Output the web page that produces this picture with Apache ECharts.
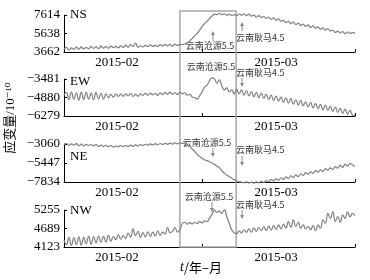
<!DOCTYPE html>
<html><head><meta charset="utf-8">
<script src="https://cdn.jsdelivr.net/npm/echarts@6/dist/echarts.min.js"></script>
<style>html,body{margin:0;padding:0;background:#fff}#c{width:370px;height:280px}</style>
</head><body><div id="c"></div>
<script>
// days since 2015-02-01
const days = [
0,0.5,1,1.5,2,2.5,3,3.5,4,4.5,
5,5.5,6,6.5,7,7.5,8,8.5,9,9.5,
10,10.5,11,11.5,12,12.5,13,13.5,14,14.5,
15,15.5,16,16.5,17,17.5,18,18.5,19,19.5,
20,20.5,21,21.5,22,22.5,23,23.5,24,24.5,
25,25.5,26,26.5,27,27.5,28,28.5,29,29.5,
30,30.5,31,31.5,32,32.5,33,33.5,34,34.5,
35,35.5,36,36.5,37,37.5,38,38.5,39,39.5,
40,40.5,41,41.5,42,42.5,43,43.5,44,44.5,
45,45.5,46,46.5,47,47.5,48,48.5,49,49.5,
50,50.5,51,51.5,52,52.5,53,53.5,54,54.5,
55,55.5,56,56.5,57,57.5,58,58.5,59];

const nsValues = [
3950,4150,3880,4100,3930,4180,3960,4200,4000,4150,
3990,4230,4050,4200,4030,4280,4080,4250,4060,4300,
4120,4260,4100,4320,4150,4400,4180,4450,4250,4620,
4160,4330,4200,4370,4230,4420,4260,4400,4250,4450,
4300,4480,4320,4460,4300,4500,4350,4480,4450,4550,
4650,4850,5100,5400,5650,6000,6400,6700,6950,7250,
7500,7700,7650,7800,7650,7750,7600,7700,7550,7650,
7550,7720,7600,7750,7550,7700,7500,7600,7400,7550,
7350,7450,7250,7400,7150,7300,7050,7200,6950,7050,
6800,6950,6700,6850,6600,6750,6500,6650,6400,6550,
6300,6450,6200,6350,6100,6250,6000,6150,5900,6000,
5750,5900,5700,5850,5600,5800,5650,5750,5620];

const ewValues = [
-4700,-4500,-5050,-4480,-5000,-4520,-5080,-4470,-5030,-4500,
-5000,-4550,-5050,-4500,-4980,-4560,-5000,-4600,-4900,-4650,
-4850,-4600,-4800,-4620,-4780,-4600,-4750,-4560,-4800,-4640,
-4780,-4600,-4720,-4560,-4700,-4540,-4680,-4560,-4720,-4520,
-4660,-4500,-4650,-4480,-4620,-4520,-4650,-4500,-4600,-4520,
-4700,-4650,-4850,-4900,-5000,-4750,-4450,-4100,-3950,-3600,
-3400,-3450,-3800,-3550,-4000,-4300,-4150,-4450,-4300,-4600,
-4250,-4600,-4300,-4700,-4350,-4750,-4450,-4820,-4500,-4900,
-4550,-4950,-4650,-5030,-4700,-5100,-4780,-5150,-4850,-5250,
-4900,-5300,-4950,-5380,-5050,-5450,-5100,-5500,-5200,-5580,
-5250,-5650,-5350,-5720,-5400,-5800,-5450,-5850,-5550,-5930,
-5600,-6000,-5700,-6080,-5750,-6150,-5850,-6200,-6250];

const neValues = [
-3150,-3000,-3250,-3050,-3200,-3020,-3280,-3080,-3300,-3100,
-3250,-3120,-3300,-3150,-3350,-3200,-3380,-3220,-3400,-3250,
-3450,-3300,-3420,-3250,-3400,-3250,-3380,-3200,-3350,-3180,
-3300,-3120,-3250,-3100,-3200,-3050,-3180,-3020,-3150,-3000,
-3120,-2980,-3100,-2950,-3080,-2920,-3050,-2900,-3000,-2950,
-3150,-3350,-3700,-4000,-4350,-4650,-4850,-5050,-5150,-5300,
-5450,-5600,-5850,-6050,-6400,-6700,-6950,-7150,-7350,-7550,
-7700,-7800,-7850,-7950,-7820,-7960,-7850,-7980,-7800,-7950,
-7750,-7900,-7650,-7800,-7500,-7700,-7400,-7600,-7300,-7500,
-7200,-7400,-7050,-7250,-6950,-7150,-6800,-7000,-6650,-6850,
-6550,-6750,-6400,-6600,-6300,-6500,-6150,-6350,-6050,-6250,
-5900,-6100,-5750,-6000,-5600,-5850,-5500,-5700,-5900];

const nwValues = [
4330,4200,4420,4170,4400,4200,4430,4180,4420,4220,
4450,4210,4430,4250,4460,4260,4450,4280,4480,4300,
4440,4350,4500,4360,4470,4380,4550,4420,4680,4470,
4600,4420,4560,4430,4590,4450,4580,4460,4620,4480,
4580,4520,4720,4560,4600,4720,4580,4650,4850,4880,
4820,4870,4830,4880,4840,4900,4860,4920,4900,5000,
5120,5250,5180,5230,5150,5260,5050,4850,4650,4560,
4530,4620,4550,4650,4570,4680,4580,4700,4600,4720,
4620,4750,4630,4760,4640,4780,4660,4800,4680,4820,
4700,4900,4720,4950,4750,4880,4700,4800,4680,4750,
4650,4780,4620,4800,4700,4950,4850,5150,5000,5200,
4900,5050,4880,5100,5000,5200,5050,5150,5080];

const panelNames = ['NS','EW','NE','NW'];
const yTicks = [[3662,5638,7614],[-6279,-4880,-3481],[-7834,-5447,-3060],[4123,4689,5255]];
const monthLabels = ['2015-02','2015-03'];
const monthLabelDays = [10.75, 43];
const tickDays = [28, 59];
const cangyuanDay = 30.2;   // 云南沧源5.5
const gengmaDay = 36.1;     // 云南耿马4.5
const boxDays = [23.5, 34.9];

const seriesValues = [nsValues, ewValues, neValues, nwValues];
const gridTops = [15, 79, 144, 210];
const gridHeights = [37, 37, 38, 37];
const serif = 'Liberation Serif, DejaVu Serif, serif';
const cjk = 'Noto Sans CJK SC, sans-serif';

const chart = echarts.init(document.getElementById('c'), null, {renderer: 'canvas'});
const grids = [], xAxes = [], yAxes = [], series = [];
for (let i = 0; i < 4; i++) {
  grids.push({left: 64, right: 15, top: gridTops[i], height: gridHeights[i]});
  xAxes.push({
    type: 'value', gridIndex: i, min: 0, max: 59,
    axisLine: {lineStyle: {color: '#000', width: 1}},
    axisTick: {show: true, inside: true, length: 3, customValues: tickDays, lineStyle: {color: '#000'}},
    axisLabel: {customValues: monthLabelDays, margin: 4, color: '#000', fontFamily: serif, fontSize: 13,
      formatter: v => v < 28 ? monthLabels[0] : monthLabels[1]},
    splitLine: {show: false}
  });
  const t = yTicks[i];
  yAxes.push({
    type: 'value', gridIndex: i, min: t[0], max: t[2],
    axisLine: {show: true, lineStyle: {color: '#000', width: 1}},
    axisTick: {show: true, inside: true, length: 3, customValues: t, lineStyle: {color: '#000'}},
    axisLabel: {customValues: t, margin: 4, color: '#000', fontFamily: serif, fontSize: 13,
      formatter: v => (v < 0 ? '\u2212' + Math.abs(v) : String(v))},
    splitLine: {show: false}
  });
  series.push({
    type: 'line', xAxisIndex: i, yAxisIndex: i, showSymbol: false, smooth: 0.5, clip: false,
    lineStyle: {color: '#7f7f7f', width: 1.2},
    data: days.map((d, k) => [d, seriesValues[i][k]])
  });
}
chart.setOption({animation: false, grid: grids, xAxis: xAxes, yAxis: yAxes, series: series});

const px = d => chart.convertToPixel({xAxisIndex: 0}, d);
const xc = px(cangyuanDay), xg = px(gengmaDay);
const bx0 = px(boxDays[0]), bx1 = px(boxDays[1]);
const g = [];
g.push({type: 'rect', shape: {x: bx0, y: 11, width: bx1 - bx0, height: 247 - 11},
  style: {fill: null, stroke: '#a8a8a8', lineWidth: 1.5}, z: 1});
const nameY = [15, 82, 157, 211];
panelNames.forEach((n, i) => g.push({type: 'text', x: 70, y: nameY[i],
  style: {text: n, font: '13px ' + serif, fill: '#000', verticalAlign: 'middle', align: 'left'}}));

function arrow(x, y1, y2) {
  const dir = y2 > y1 ? 1 : -1;
  g.push({type: 'line', shape: {x1: x, y1: y1, x2: x, y2: y2 - dir * 3}, style: {stroke: '#888', lineWidth: 1}});
  g.push({type: 'polygon', shape: {points: [[x - 2, y2 - dir * 4], [x + 2, y2 - dir * 4], [x, y2]]}, style: {fill: '#888'}});
}
function label(text, x, y, align) {
  g.push({type: 'text', x: x, y: y, style: {text: text, font: '9px ' + cjk, fill: '#333', align: align, verticalAlign: 'middle'}});
}
// panel 1
label('云南沧源5.5', xc - 3, 46, 'center'); arrow(xc, 41, 31);
label('云南耿马4.5', xg - 6, 38, 'left'); arrow(xg, 31, 22);
// panel 2
label('云南沧源5.5', xc - 2, 67, 'center');
label('云南耿马4.5', xg - 6, 73, 'left'); arrow(xg, 78, 87);
// panel 3
label('云南沧源5.5', xc - 6, 143, 'center'); arrow(xc, 148, 157);
label('云南耿马4.5', xg - 6, 150, 'left'); arrow(xg, 156, 166);
// panel 4
label('云南沧源5.5', xc - 4, 197, 'center'); arrow(xc - 1, 202, 212);
label('云南耿马4.5', xg - 6, 205, 'left'); arrow(xg, 210, 219);

g.push({type: 'text', x: 11, y: 118, rotation: Math.PI / 2,
  style: {text: '应变量/10⁻¹⁰', font: '13px ' + serif + ', ' + cjk, fill: '#000', align: 'center', verticalAlign: 'middle'}});
g.push({type: 'text', x: 201, y: 267,
  style: {text: '{i|t}/年–月', fill: '#000', align: 'center', verticalAlign: 'middle', font: '13px ' + cjk,
    rich: {i: {fontStyle: 'italic', fontFamily: 'Liberation Serif', fontSize: 14}}}});
chart.setOption({graphic: {elements: g}});
</script></body></html>
